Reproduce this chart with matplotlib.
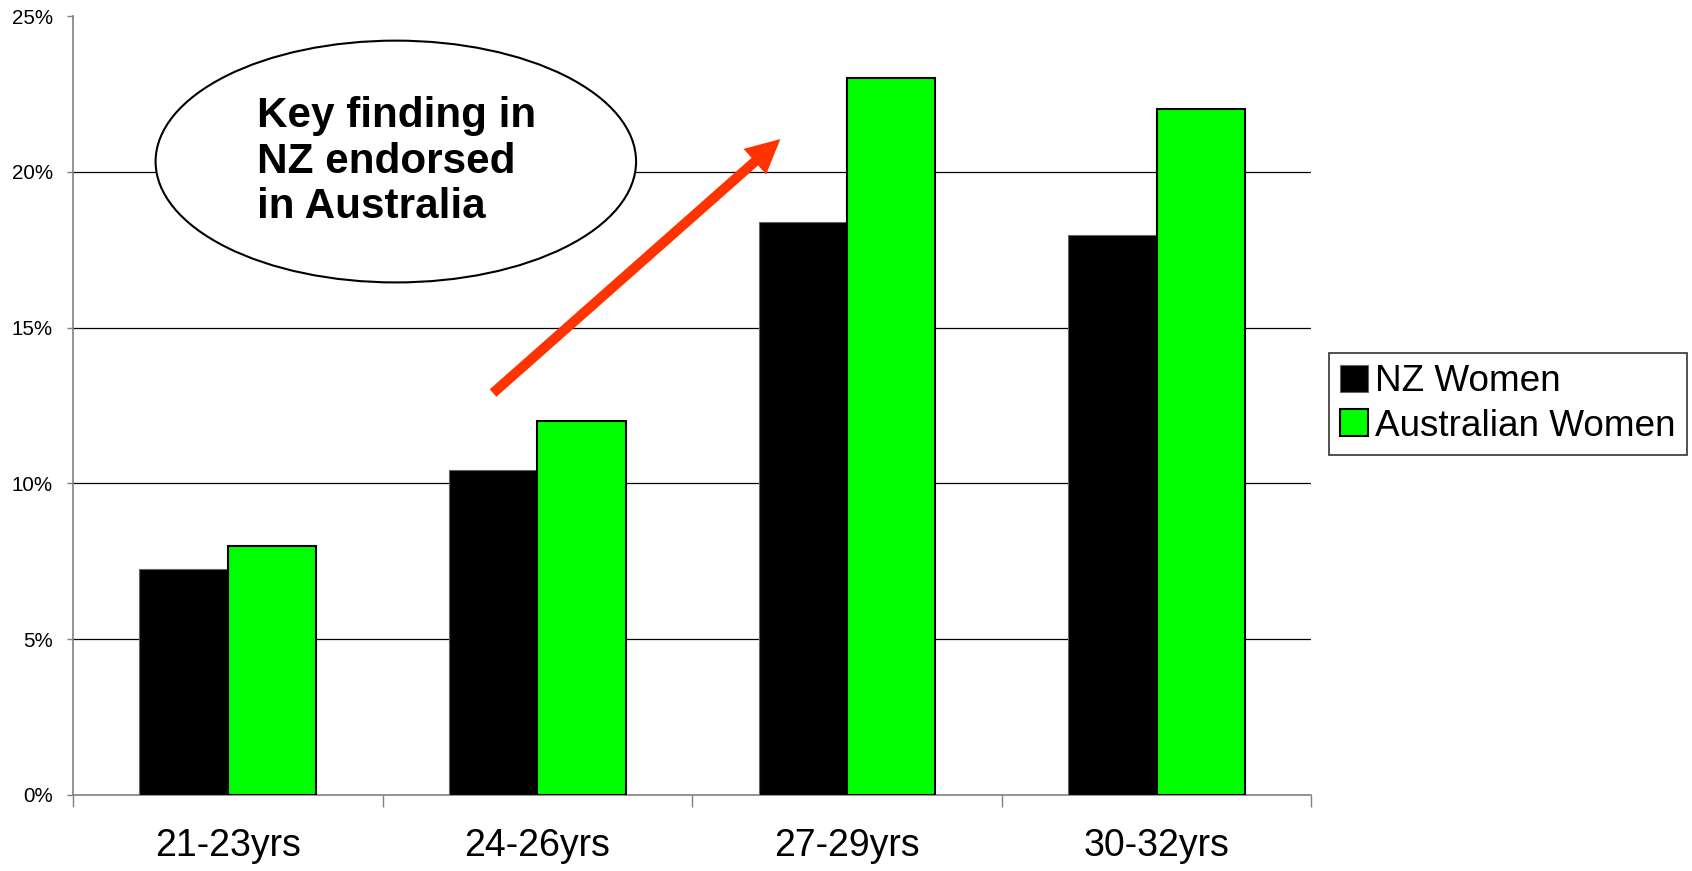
import matplotlib
matplotlib.use("Agg")
import matplotlib.pyplot as plt
from matplotlib.patches import Ellipse, FancyArrowPatch, ArrowStyle

categories = ["21-23yrs", "24-26yrs", "27-29yrs", "30-32yrs"]
nz_women = [7.24, 10.42, 18.39, 17.97]
aus_women = [8.0, 12.0, 23.0, 22.0]
series_names = ["NZ Women", "Australian Women"]
yticks = [0, 5, 10, 15, 20, 25]
ytick_labels = ["0%", "5%", "10%", "15%", "20%", "25%"]
callout = "Key finding in\nNZ endorsed\nin Australia"

plt.rcParams['font.family'] = ['Liberation Sans', 'DejaVu Sans']

fig = plt.figure(figsize=(16.92, 8.71), dpi=100)
ax = fig.add_axes([0.0431, 0.0873, 0.775 - 0.0431, 0.9816 - 0.0873])

w = 0.285
x = list(range(len(categories)))
ax.bar([i - w / 2 for i in x], nz_women, width=w, color="black",
       edgecolor="#666666", linewidth=0.8, label=series_names[0], zorder=3)
ax.bar([i + w / 2 for i in x], aus_women, width=w, color="#00FF00",
       edgecolor="black", linewidth=1.5, label=series_names[1], zorder=3)

ax.set_xlim(-0.5, 3.5)
ax.set_ylim(0, 25)
ax.set_yticks(yticks)
ax.set_yticklabels(ytick_labels, fontsize=14.8)
for v in yticks[1:-1]:
    ax.axhline(v, color="black", linewidth=0.9, zorder=1)

ax.set_xticks([-0.5, 0.5, 1.5, 2.5, 3.5])
ax.set_xticklabels([])
ax.set_xticks(x, minor=True)
ax.set_xticklabels(categories, minor=True, fontsize=27)
ax.tick_params(axis='x', which='major', length=8.6, width=1, color="#808080", direction='out')
ax.tick_params(axis='x', which='minor', length=0, pad=24)
ax.tick_params(axis='y', which='major', length=4.3, width=1, color="#808080", pad=10)

for s in ["top", "right"]:
    ax.spines[s].set_visible(False)
ax.spines["left"].set_color("#808080")
ax.spines["bottom"].set_color("#808080")
ax.spines["left"].set_linewidth(1.2)
ax.spines["bottom"].set_linewidth(1.2)

ell = Ellipse((0.543, 20.33), 1.552, 7.76, facecolor="white", edgecolor="black",
              linewidth=1.5, zorder=4, clip_on=False)
ax.add_patch(ell)
ax.text(0.093, 20.33, callout, fontsize=30.4, fontweight="bold", ha="left",
        va="center", linespacing=1.18, zorder=5)

arrow = FancyArrowPatch((0.857, 12.9), (1.785, 21.05),
                        arrowstyle=ArrowStyle.Simple(head_length=24.5, head_width=24.5, tail_width=7.2),
                        mutation_scale=1, shrinkA=0, shrinkB=0,
                        facecolor="#FF3300", edgecolor="#FF3300", linewidth=0, zorder=6)
ax.add_patch(arrow)

leg = fig.legend(loc="center left", bbox_to_anchor=(1329 / 1692, 1 - 404 / 871),
                 fontsize=26.6, frameon=True, fancybox=False, edgecolor="black",
                 handlelength=0.75, handleheight=0.75, handletextpad=0.2,
                 borderpad=0.3, labelspacing=0.25, borderaxespad=0)
leg.get_frame().set_linewidth(1.2)

fig.savefig("out.png", dpi=100)
